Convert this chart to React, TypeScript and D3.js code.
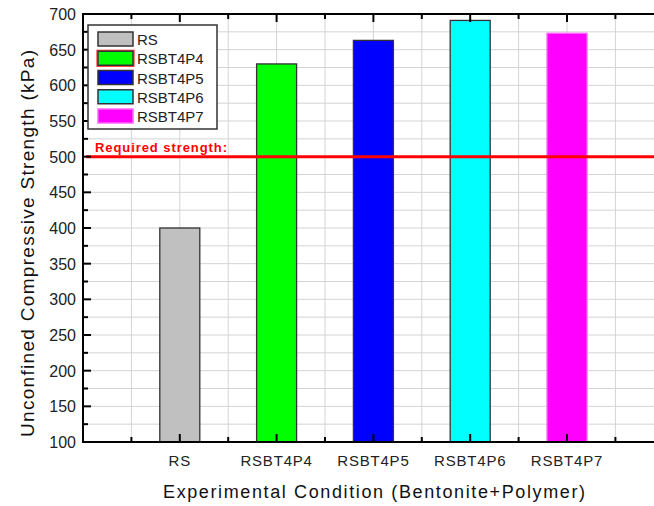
import React, { useEffect, useRef } from "react";
import * as d3 from "d3";

const categories = ["RS", "RSBT4P4", "RSBT4P5", "RSBT4P6", "RSBT4P7"];
const strengths = [400, 630, 663, 691, 673];
const fills = ["#C0C0C0", "#00FF00", "#0000FF", "#00FFFF", "#FF00FF"];
const strokes = ["#333333", "#333333", "#333333", "#333333", "#FF66FF"];
const yTicks = [100, 150, 200, 250, 300, 350, 400, 450, 500, 550, 600, 650, 700];
const requiredStrength = 500;

const W = 654;
const H = 506;
const left = 83;
const top = 14;
const bottom = 442;
const slot = 96.8;

export default function App() {
  const ref = useRef<SVGSVGElement>(null);

  useEffect(() => {
    const svg = d3.select(ref.current);
    svg.selectAll("*").remove();
    const font = "Arial, 'Liberation Sans', sans-serif";

    const x = d3.scaleLinear().domain([0, 6]).range([left, left + 6 * slot]);
    const y = d3.scaleLinear().domain([100, 700]).range([bottom, top]);
    const right = x(6);

    // grid
    const minorY = d3.range(100, 701, 25);
    const minorX = d3.range(0.5, 6.01, 0.5);
    const grid = svg.append("g").attr("stroke", "#d4d4d4").attr("stroke-width", 1);
    grid.selectAll("line.h").data(minorY.slice(1, -1)).join("line")
      .attr("x1", left).attr("x2", right)
      .attr("y1", (d) => y(d)).attr("y2", (d) => y(d));
    grid.selectAll("line.v").data(minorX).join("line")
      .attr("x1", (d) => x(d)).attr("x2", (d) => x(d))
      .attr("y1", top).attr("y2", bottom);

    // bars
    const bw = 40;
    svg.append("g").selectAll("rect").data(strengths).join("rect")
      .attr("x", (_, i) => x(i + 1) - bw / 2)
      .attr("width", bw)
      .attr("y", (d) => y(d))
      .attr("height", (d) => bottom - y(d))
      .attr("fill", (_, i) => fills[i])
      .attr("stroke", (_, i) => strokes[i])
      .attr("stroke-width", 1.3);

    // required strength line
    svg.append("line")
      .attr("x1", left + 3).attr("x2", right)
      .attr("y1", y(requiredStrength)).attr("y2", y(requiredStrength))
      .attr("stroke", "#FF0000").attr("stroke-width", 3);
    svg.append("text")
      .attr("x", 95).attr("y", y(requiredStrength) - 5)
      .attr("fill", "#FF0000").attr("font-family", font)
      .attr("font-size", 13).attr("font-weight", "bold")
      .attr("textLength", 132).attr("lengthAdjust", "spacing")
      .text("Required strength:");

    // axes frame
    const axisG = svg.append("g").attr("stroke", "#000");
    axisG.append("line").attr("x1", left).attr("x2", right).attr("y1", top).attr("y2", top).attr("stroke-width", 2);
    axisG.append("line").attr("x1", left).attr("x2", right).attr("y1", bottom).attr("y2", bottom).attr("stroke-width", 2);
    axisG.append("line").attr("x1", left).attr("x2", left).attr("y1", top - 1).attr("y2", bottom + 1).attr("stroke-width", 2);

    // y ticks (inward)
    axisG.selectAll("line.ym").data(yTicks).join("line")
      .attr("x1", left).attr("x2", left + 8)
      .attr("y1", (d) => y(d)).attr("y2", (d) => y(d)).attr("stroke-width", 2);
    axisG.selectAll("line.yn").data(minorY.filter((d) => d % 50 !== 0)).join("line")
      .attr("x1", left).attr("x2", left + 5)
      .attr("y1", (d) => y(d)).attr("y2", (d) => y(d)).attr("stroke-width", 2);

    // x ticks top and bottom (inward)
    const xMajor = d3.range(1, 6.01, 1);
    const xMinor = d3.range(0.5, 6.01, 1);
    [
      [top, 1],
      [bottom, -1],
    ].forEach(([yy, dir]) => {
      axisG.append("g").selectAll("line").data(xMajor).join("line")
        .attr("x1", (d) => x(d)).attr("x2", (d) => x(d))
        .attr("y1", yy).attr("y2", yy + dir * 8).attr("stroke-width", 2);
      axisG.append("g").selectAll("line").data(xMinor).join("line")
        .attr("x1", (d) => x(d)).attr("x2", (d) => x(d))
        .attr("y1", yy).attr("y2", yy + dir * 5).attr("stroke-width", 2);
    });

    // y tick labels
    svg.append("g").selectAll("text").data(yTicks).join("text")
      .attr("x", 76).attr("y", (d) => y(d) + 6)
      .attr("text-anchor", "end")
      .attr("font-family", font).attr("font-size", 16).attr("fill", "#222")
      .text((d) => d);

    // x tick labels
    svg.append("g").selectAll("text").data(categories).join("text")
      .attr("x", (_, i) => x(i + 1)).attr("y", 466)
      .attr("text-anchor", "middle")
      .attr("font-family", font).attr("font-size", 15).attr("fill", "#222")
      .attr("letter-spacing", 0.8)
      .text((d) => d);

    // axis titles
    svg.append("text")
      .attr("x", 163).attr("y", 498)
      .attr("font-family", font).attr("font-size", 18).attr("fill", "#111")
      .attr("textLength", 422).attr("lengthAdjust", "spacing")
      .text("Experimental Condition (Bentonite+Polymer)");
    svg.append("text")
      .attr("transform", "translate(34,437) rotate(-90)")
      .attr("font-family", font).attr("font-size", 19).attr("fill", "#111")
      .attr("textLength", 387).attr("lengthAdjust", "spacing")
      .text("Unconfined Compressive Strength (kPa)");

    // legend
    const lg = svg.append("g");
    lg.append("rect").attr("x", 88).attr("y", 25).attr("width", 129).attr("height", 104)
      .attr("fill", "#fff").attr("stroke", "#333").attr("stroke-width", 1.5);
    const row = d3.scaleLinear().domain([0, 4]).range([32, 109]);
    const items = lg.selectAll("g.item").data(categories).join("g")
      .attr("transform", (_, i) => `translate(0,${row(i)})`);
    items.filter((_, i) => i === 1).append("rect")
      .attr("x", 97).attr("y", -1).attr("width", 37).attr("height", 16)
      .attr("fill", "none").attr("stroke", "#FF0000").attr("stroke-width", 1);
    items.append("rect")
      .attr("x", 98).attr("y", 0).attr("width", 35).attr("height", 14)
      .attr("fill", (_, i) => fills[i])
      .attr("stroke", (_, i) => strokes[i]).attr("stroke-width", 1.5);
    items.append("text")
      .attr("x", 137).attr("y", 13)
      .attr("font-family", font).attr("font-size", 15).attr("fill", "#222")
      .text((d) => d);
  }, []);

  return (
    <svg ref={ref} width={W} height={H} style={{ display: "block", position: "absolute", left: 0, top: 0, background: "#fff" }} />
  );
}
